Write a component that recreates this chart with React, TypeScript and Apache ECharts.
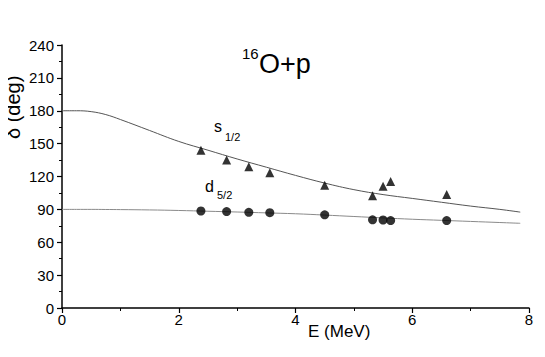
import React, { useEffect, useRef } from "react";
import * as echarts from "echarts";

// s1/2 experimental phase shifts (triangles)
const sE = [2.38, 2.82, 3.2, 3.56, 4.5, 5.32, 5.5, 5.63, 6.59];
const sDelta = [144, 135, 129, 123.5, 112, 102.5, 111, 115.5, 103.5];
// d5/2 experimental phase shifts (circles)
const dE = [2.38, 2.82, 3.2, 3.56, 4.5, 5.32, 5.5, 5.63, 6.59];
const dDelta = [88.5, 88, 87.3, 87, 85, 80.5, 80.3, 79.8, 79.8];
// calculated curves
const curveE = [0, 0.25, 0.5, 0.75, 1.0, 1.5, 2.0, 2.5, 3.0, 3.5, 4.0, 4.5, 5.0, 5.5, 6.0, 6.5, 7.0, 7.5, 7.85];
const sCurve = [180, 180, 179.2, 176.5, 172, 162, 152, 144, 136, 128.5, 121, 114, 108, 103.5, 100, 96.5, 93, 90, 87.5];
const dCurve = [90, 90, 90, 89.9, 89.8, 89.5, 89, 88.3, 87.6, 86.8, 86, 84.8, 83.5, 82.2, 81, 80, 79, 78, 77.3];

const xTicks = [0, 2, 4, 6, 8];
const yTicks = [0, 30, 60, 90, 120, 150, 180, 210, 240];

const FONT = "'Liberation Sans', Arial, sans-serif";

export default function App() {
  const ref = useRef<HTMLDivElement>(null);
  useEffect(() => {
    if (!ref.current) return;
    const chart = echarts.init(ref.current, undefined, { renderer: "svg" });
    const pair = (xs: number[], ys: number[]) => xs.map((x, i) => [x, ys[i]]);
    chart.setOption({
      animation: false,
      backgroundColor: "#ffffff",
      grid: { left: 62, right: 16, top: 45, bottom: 49 },
      xAxis: {
        type: "value",
        min: xTicks[0],
        max: xTicks[xTicks.length - 1],
        interval: 2,
        axisLine: { onZero: false, lineStyle: { color: "#000", width: 1.5 } },
        axisTick: { show: true, inside: false, length: 5, lineStyle: { color: "#000", width: 1.2 } },
        minorTick: { show: true, splitNumber: 2, length: 3, lineStyle: { color: "#000", width: 1 } },
        axisLabel: { color: "#000", fontSize: 15, fontFamily: FONT, margin: 4 },
        splitLine: { show: false },
      },
      yAxis: {
        type: "value",
        min: yTicks[0],
        max: yTicks[yTicks.length - 1],
        interval: 30,
        axisLine: { show: true, onZero: false, lineStyle: { color: "#000", width: 1.5 } },
        axisTick: { show: true, inside: false, length: 5, lineStyle: { color: "#000", width: 1.2 } },
        minorTick: { show: true, splitNumber: 2, length: 3, lineStyle: { color: "#000", width: 1 } },
        axisLabel: { color: "#000", fontSize: 15, fontFamily: FONT, margin: 8 },
        splitLine: { show: false },
      },
      series: [
        {
          type: "line",
          data: pair(curveE, sCurve),
          smooth: 0.4,
          showSymbol: false,
          lineStyle: { color: "#555", width: 1 },
          z: 2,
        },
        {
          type: "line",
          data: pair(curveE, dCurve),
          smooth: 0.4,
          showSymbol: false,
          lineStyle: { color: "#8a8a8a", width: 1 },
          z: 2,
        },
        {
          type: "scatter",
          data: pair(sE, sDelta),
          symbol: "triangle",
          symbolSize: 9,
          itemStyle: { color: "#000" },
          z: 3,
        },
        {
          type: "scatter",
          data: pair(dE, dDelta),
          symbol: "circle",
          symbolSize: 9,
          itemStyle: { color: "#000" },
          z: 3,
        },
      ],
      graphic: [
        { type: "text", left: 242, top: 46, style: { text: "16", font: `15px ${FONT}`, fill: "#000" } },
        { type: "text", left: 259, top: 50, style: { text: "O+p", font: `27px ${FONT}`, fill: "#000" } },
        { type: "text", left: 214, top: 118, style: { text: "s", font: `16px ${FONT}`, fill: "#000" } },
        { type: "text", left: 225, top: 131, style: { text: "1/2", font: `11px ${FONT}`, fill: "#000" } },
        { type: "text", left: 205, top: 178, style: { text: "d", font: `16px ${FONT}`, fill: "#000" } },
        { type: "text", left: 217, top: 189, style: { text: "5/2", font: `11px ${FONT}`, fill: "#000" } },
        { type: "text", left: 308, top: 323, style: { text: "E (MeV)", font: `17px ${FONT}`, fill: "#000" } },
        {
          type: "text",
          x: 3,
          y: 139,
          rotation: Math.PI / 2,
          style: { text: "δ (deg)", font: `20px ${FONT}`, fill: "#000", textAlign: "left", textVerticalAlign: "top" },
        },
      ],
    });
    return () => chart.dispose();
  }, []);
  return <div ref={ref} style={{ width: 545, height: 357, margin: -8 }} />;
}
